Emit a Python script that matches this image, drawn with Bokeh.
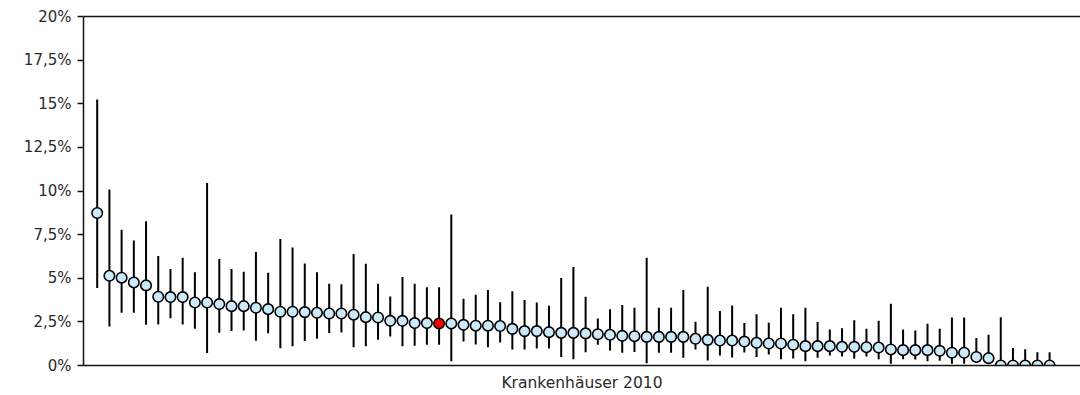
from bokeh.plotting import figure
from bokeh.models import (Range1d, LinearAxis, FixedTicker, CustomJSTickFormatter,
                          ColumnDataSource)
from bokeh.embed import file_html
from bokeh.resources import INLINE

# Rate per hospital (percent), sorted descending, with confidence interval bounds
rate = [8.74, 5.14, 5.03, 4.76, 4.59, 3.94, 3.92, 3.92, 3.61, 3.61,
        3.52, 3.40, 3.40, 3.31, 3.23, 3.08, 3.08, 3.06, 3.02, 2.98,
        2.98, 2.91, 2.77, 2.75, 2.56, 2.56, 2.43, 2.43, 2.41, 2.41,
        2.33, 2.28, 2.28, 2.26, 2.10, 1.97, 1.97, 1.91, 1.87, 1.87,
        1.84, 1.79, 1.76, 1.70, 1.68, 1.64, 1.64, 1.64, 1.64, 1.53,
        1.47, 1.43, 1.43, 1.37, 1.30, 1.26, 1.26, 1.19, 1.11, 1.11,
        1.11, 1.07, 1.07, 1.05, 1.03, 0.92, 0.88, 0.88, 0.88, 0.84,
        0.73, 0.73, 0.49, 0.42, 0.0, 0.0, 0.0, 0.0, 0.0]
lower = [4.44, 2.24, 3.02, 3.02, 2.33, 2.35, 2.71, 2.35, 2.10, 0.71,
         1.87, 1.97, 2.01, 1.42, 1.85, 0.99, 1.10, 1.41, 1.53, 1.86,
         1.89, 1.05, 1.11, 1.47, 1.66, 1.11, 1.13, 1.19, 1.19, 0.25,
         1.38, 1.20, 1.05, 1.32, 0.92, 0.92, 0.98, 0.98, 0.48, 0.36,
         0.76, 1.19, 0.86, 0.73, 0.78, 0.13, 0.73, 0.73, 0.44, 0.92,
         0.29, 0.57, 0.46, 0.75, 0.48, 0.63, 0.36, 0.40, 0.25, 0.44,
         0.57, 0.52, 0.38, 0.52, 0.36, 0.10, 0.36, 0.34, 0.25, 0.27,
         0.10, 0.10, 0.15, 0.08, 0.0, 0.0, 0.0, 0.0, 0.0]
upper = [15.24, 10.08, 7.78, 7.17, 8.26, 6.27, 5.53, 6.18, 5.35, 10.46,
         6.10, 5.53, 5.37, 6.50, 5.32, 7.25, 6.76, 5.84, 5.35, 4.69,
         4.65, 6.39, 5.83, 4.69, 3.96, 5.07, 4.69, 4.48, 4.48, 8.66,
         3.83, 4.05, 4.32, 3.63, 4.26, 3.75, 3.61, 3.42, 5.01, 5.64,
         3.94, 2.70, 3.23, 3.46, 3.31, 6.18, 3.31, 3.31, 4.32, 2.51,
         4.51, 3.12, 3.44, 2.43, 2.94, 2.45, 3.31, 2.93, 3.31, 2.49,
         2.07, 2.14, 2.60, 2.10, 2.56, 3.54, 2.07, 2.01, 2.39, 2.10,
         2.75, 2.75, 1.58, 1.76, 2.76, 1.01, 0.93, 0.76, 0.76]
highlight_index = 28
y_ticks = [0, 2.5, 5, 7.5, 10, 12.5, 15, 17.5, 20]
x_label = "Krankenhäuser 2010"

idx = list(range(len(rate)))
fills = ["#ff0000" if i == highlight_index else "#cbe9fb" for i in idx]
src = ColumnDataSource(dict(x=idx, y=rate, lo=lower, hi=upper, fill=fills))

FONT = "DejaVu Sans"
TXT = "#2a2a2a"

p = figure(width=1080, height=395, output_backend="svg", toolbar_location=None,
           x_range=Range1d(-1.122, 80.53), y_range=Range1d(0, 20),
           x_axis_location=None, y_axis_location=None,
           min_border_left=83, min_border_right=0,
           min_border_top=16, min_border_bottom=30)
p.outline_line_color = None
p.grid.visible = False
p.background_fill_color = "white"
p.border_fill_color = "white"

# Left axis with percent labels using a decimal comma
yaxis = LinearAxis(ticker=FixedTicker(ticks=y_ticks),
                   formatter=CustomJSTickFormatter(code="return String(tick).replace('.', ',') + '%';"))
yaxis.major_tick_out = 6
yaxis.major_tick_in = 0
yaxis.minor_tick_line_color = None
yaxis.axis_line_color = "#111111"
yaxis.axis_line_width = 1.5
yaxis.major_tick_line_color = "#111111"
yaxis.major_tick_line_width = 1.5
yaxis.major_label_standoff = 6
yaxis.major_label_text_font = FONT
yaxis.major_label_text_font_size = "15px"
yaxis.major_label_text_color = TXT
p.add_layout(yaxis, "left")

# Bottom baseline with the category label, no ticks
xaxis = LinearAxis(ticker=FixedTicker(ticks=[]), axis_label=x_label)
xaxis.axis_line_color = "#111111"
xaxis.axis_line_width = 1.5
xaxis.major_tick_line_color = None
xaxis.minor_tick_line_color = None
xaxis.axis_label_text_font = FONT
xaxis.axis_label_text_font_size = "15.5px"
xaxis.axis_label_text_font_style = "normal"
xaxis.axis_label_text_color = TXT
xaxis.axis_label_standoff = 8
p.add_layout(xaxis, "below")

# Top rule
taxis = LinearAxis(ticker=FixedTicker(ticks=[]))
taxis.axis_line_color = "#111111"
taxis.axis_line_width = 1.5
taxis.major_tick_line_color = None
taxis.minor_tick_line_color = None
p.add_layout(taxis, "above")

# Confidence intervals
p.segment(x0="x", y0="lo", x1="x", y1="hi", source=src,
          line_color="black", line_width=2)
# Point estimates
p.scatter(x="x", y="y", source=src, size=10.5, marker="circle",
          fill_color="fill", line_color="black", line_width=1.6)

open("out.html", "w").write(file_html(p, INLINE))
